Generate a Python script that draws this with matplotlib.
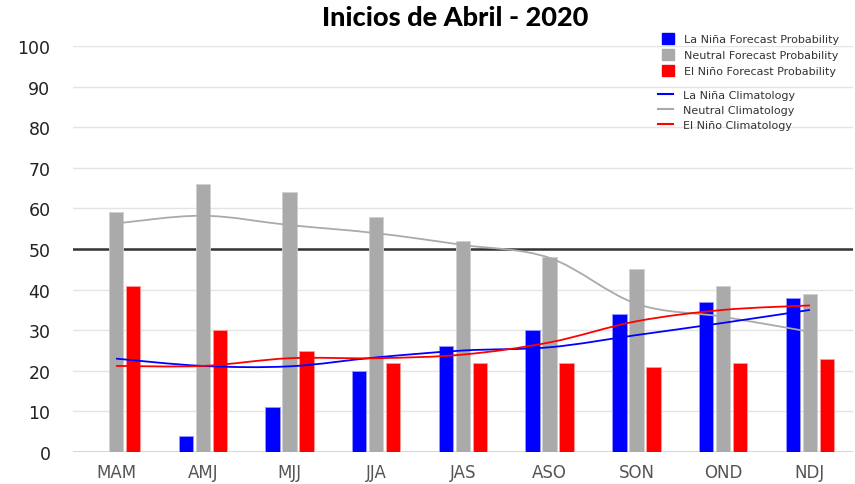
import numpy as np
import matplotlib
matplotlib.use("Agg")
import matplotlib.pyplot as plt
from matplotlib.path import Path
from matplotlib.patches import PathPatch, Patch
from matplotlib.lines import Line2D

# Data
seasons = ["MAM", "AMJ", "MJJ", "JJA", "JAS", "ASO", "SON", "OND", "NDJ"]
nina_prob = [0, 4, 11, 20, 26, 30, 34, 37, 38]
neutral_prob = [59, 66, 64, 58, 52, 48, 45, 41, 39]
nino_prob = [41, 30, 25, 22, 22, 22, 21, 22, 23]

nina_clim = [23, 21.2, 21.1, 23.3, 25, 25.8, 28.8, 31.8, 35]
neutral_clim = [56.3, 58.2, 55.9, 53.9, 51, 47.8, 36.5, 33.3, 29.6]
nino_clim = [21.2, 21.2, 23.1, 23.1, 24, 27, 32.2, 35, 36.1]

c_nina, c_neutral, c_nino = "#0000ff", "#aaaaaa", "#ff0000"


def smooth_path(xs, ys):
    # Catmull-Rom curve through the points, drawn as cubic Bezier segments
    pts = np.column_stack([xs, ys]).astype(float)
    ext = np.vstack([pts[0], pts, pts[-1]])
    verts = [pts[0]]
    codes = [Path.MOVETO]
    for i in range(1, len(ext) - 2):
        p0, p1, p2, p3 = ext[i - 1], ext[i], ext[i + 1], ext[i + 2]
        verts += [p1 + (p2 - p0) / 6, p2 - (p3 - p1) / 6, p2]
        codes += [Path.CURVE4] * 3
    return Path(verts, codes)


fig = plt.figure(figsize=(8.55, 4.85), dpi=100)
ax = fig.add_axes([0.085, 0.066, 0.913, 0.837])

x = np.arange(len(seasons))
off, w = 0.196, 0.167
ax.bar(x - off, nina_prob, w, color=c_nina, edgecolor="#9999ff", linewidth=0.6, zorder=2)
ax.bar(x, neutral_prob, w, color=c_neutral, edgecolor="#d0d0d0", linewidth=0.6, zorder=2)
ax.bar(x + off, nino_prob, w, color=c_nino, edgecolor="#ff9999", linewidth=0.6, zorder=2)

for vals, col in [(neutral_clim, c_neutral), (nina_clim, c_nina), (nino_clim, c_nino)]:
    ax.add_patch(PathPatch(smooth_path(x, vals), facecolor="none", edgecolor=col,
                           linewidth=1.3, zorder=3))

ax.axhline(50, color="#333333", linewidth=1.8, zorder=1.5)
ax.axhline(0, color="#c8d0e0", linewidth=1.2, zorder=1.5)

ax.set_xlim(-0.5, len(seasons) - 0.5)
ax.set_ylim(0, 100)
ax.set_yticks(range(0, 101, 10))
ax.set_xticks(x)
ax.set_xticklabels(seasons)
ax.grid(axis="y", color="#e4e4e4", linewidth=1.0, zorder=0)
ax.set_axisbelow(True)
for s in ax.spines.values():
    s.set_visible(False)
ax.tick_params(length=0, labelsize=12, colors="#555555", pad=8)
ax.tick_params(axis="y", labelcolor="#222222", labelsize=12.5, pad=16)

fig.text(0.532, 0.962, "Inicios de Abril - 2020", ha="center", va="center",
         fontsize=19.5, fontweight="black", family="Lato")

bar_handles = [Patch(color=c_nina), Patch(color=c_neutral), Patch(color=c_nino)]
bar_labels = ["La Niña Forecast Probability", "Neutral Forecast Probability",
              "El Niño Forecast Probability"]
leg1 = fig.legend(bar_handles, bar_labels, loc="upper left", bbox_to_anchor=(0.774, 0.930),
                  frameon=False, fontsize=8, handlelength=1.1, handleheight=1.1,
                  handletextpad=0.9, labelspacing=0.45, borderpad=0, borderaxespad=0,
                  labelcolor="#333333")
line_handles = [Line2D([], [], color=c) for c in (c_nina, c_neutral, c_nino)]
line_labels = ["La Niña Climatology", "Neutral Climatology", "El Niño Climatology"]
fig.legend(line_handles, line_labels, loc="upper left", bbox_to_anchor=(0.770, 0.812),
           frameon=False, fontsize=8, handlelength=1.3, handletextpad=0.9,
           labelspacing=0.45, borderpad=0, borderaxespad=0, labelcolor="#333333")

fig.savefig("out.png", dpi=100)
